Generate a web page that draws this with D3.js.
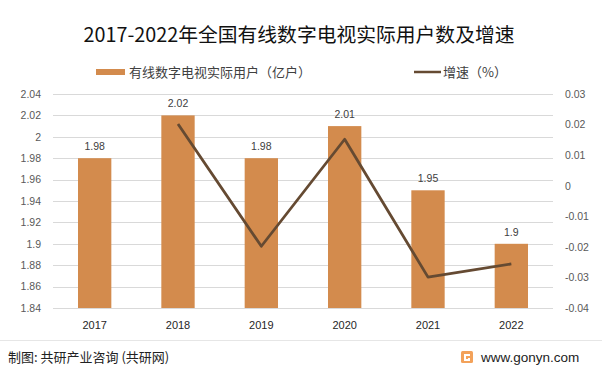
<!DOCTYPE html>
<html>
<head>
<meta charset="utf-8">
<script src="https://cdn.jsdelivr.net/npm/d3@7"></script>
<style>
  body { margin: 0; background: #fff; }
  svg { font-family: "Noto Sans CJK SC", "Noto Sans", sans-serif; }
</style>
</head>
<body>
<div id="chart"></div>
<script>
// data
var years = ["2017", "2018", "2019", "2020", "2021", "2022"];
var users = [1.98, 2.02, 1.98, 2.01, 1.95, 1.9];
var growth = [null, 0.0202, -0.0198, 0.0152, -0.0299, -0.0256];
var leftTicks = [1.84, 1.86, 1.88, 1.9, 1.92, 1.94, 1.96, 1.98, 2, 2.02, 2.04];
var rightTicks = [-0.04, -0.03, -0.02, -0.01, 0, 0.01, 0.02, 0.03];

var W = 602, H = 374;
var margin = {top: 94, right: 49, bottom: 66, left: 53};
var width = W - margin.left - margin.right;
var height = H - margin.top - margin.bottom;

var barColor = "#d38b4d", lineColor = "#654a32";
var numFont = "'Liberation Sans', 'DejaVu Sans', sans-serif";

var svg = d3.select("#chart").append("svg")
    .attr("width", W).attr("height", H);

// title
svg.append("text")
    .attr("x", 299).attr("y", 42)
    .attr("text-anchor", "middle")
    .attr("font-size", 19.8)
    .attr("fill", "#111")
    .text("2017-2022年全国有线数字电视实际用户数及增速");

// legend
var leg = svg.append("g").attr("font-size", 13);
leg.append("rect").attr("x", 96).attr("y", 69).attr("width", 29).attr("height", 6).attr("fill", barColor);
leg.append("text").attr("x", 129).attr("y", 77).attr("fill", "#404040").text("有线数字电视实际用户（亿户）");
leg.append("line").attr("x1", 414).attr("x2", 441).attr("y1", 72).attr("y2", 72)
    .attr("stroke", lineColor).attr("stroke-width", 2.5);
leg.append("text").attr("x", 443).attr("y", 77).attr("fill", "#404040").text("增速（%）");

var g = svg.append("g").attr("transform", "translate(" + margin.left + "," + margin.top + ")");

var x = d3.scaleBand().domain(years).range([0, width]).paddingInner(0.6).paddingOuter(0.3);
var y = d3.scaleLinear().domain([1.84, 2.04]).range([height, 0]);
var y2 = d3.scaleLinear().domain([-0.04, 0.03]).range([height, 0]);

// gridlines
g.selectAll(".grid").data(leftTicks).enter().append("line")
    .attr("x1", 0).attr("x2", width)
    .attr("y1", function(d) { return Math.round(y(d)) + 0.5; })
    .attr("y2", function(d) { return Math.round(y(d)) + 0.5; })
    .attr("stroke", "#d9d9d9").attr("stroke-width", 1);

function fmt(d) { return String(+d.toFixed(2)); }

// left axis
var la = g.append("g").call(d3.axisLeft(y).tickValues(leftTicks).tickSize(0).tickPadding(12).tickFormat(fmt));
la.select(".domain").remove();
la.selectAll("text").attr("font-size", 10.5).attr("fill", "#595959").attr("font-family", numFont);

// right axis
var ra = g.append("g").attr("transform", "translate(" + width + ",0)")
    .call(d3.axisRight(y2).tickValues(rightTicks).tickSize(0).tickPadding(12).tickFormat(fmt));
ra.select(".domain").remove();
ra.selectAll("text").attr("font-size", 10.5).attr("fill", "#595959").attr("font-family", numFont);

// bottom axis labels
var xa = g.append("g").attr("transform", "translate(0," + height + ")")
    .call(d3.axisBottom(x).tickSize(0).tickPadding(13));
xa.select(".domain").remove();
xa.selectAll("text").attr("font-size", 11).attr("fill", "#262626").attr("font-family", numFont);

// bars
g.selectAll(".bar").data(users).enter().append("rect")
    .attr("x", function(d, i) { return x(years[i]); })
    .attr("y", function(d) { return y(d); })
    .attr("width", x.bandwidth())
    .attr("height", function(d) { return height - y(d); })
    .attr("fill", barColor);

// bar value labels
g.selectAll(".lbl").data(users).enter().append("text")
    .attr("x", function(d, i) { return x(years[i]) + x.bandwidth() / 2; })
    .attr("y", function(d) { return y(d) - 8; })
    .attr("text-anchor", "middle")
    .attr("font-size", 10.5).attr("fill", "#404040").attr("font-family", numFont)
    .text(function(d) { return d; });

// growth line
var line = d3.line()
    .defined(function(d) { return d != null; })
    .x(function(d, i) { return x(years[i]) + x.bandwidth() / 2; })
    .y(function(d) { return y2(d); });
g.append("path").datum(growth)
    .attr("d", line)
    .attr("fill", "none")
    .attr("stroke", lineColor)
    .attr("stroke-width", 2.8)
    .attr("stroke-linejoin", "round");

// footer
svg.append("line").attr("x1", 0).attr("x2", W).attr("y1", 340.5).attr("y2", 340.5)
    .attr("stroke", "#e6e6e6");
svg.append("text").attr("x", 8).attr("y", 362)
    .attr("font-size", 13).attr("fill", "#222")
    .text("制图: 共研产业咨询 (共研网)");
var logo = svg.append("g").attr("transform", "translate(461,351)");
logo.append("rect").attr("width", 12).attr("height", 12).attr("rx", 1.5).attr("fill", "#f3a25a");
logo.append("path").attr("d", "M3,3 H9 V5 H5 V8 H7 V7 H9 V10 H3 Z").attr("fill", "#fff");
svg.append("text").attr("x", 481).attr("y", 362)
    .attr("font-size", 13.5).attr("fill", "#222").attr("font-family", numFont)
    .text("www.gonyn.com");
</script>
</body>
</html>
